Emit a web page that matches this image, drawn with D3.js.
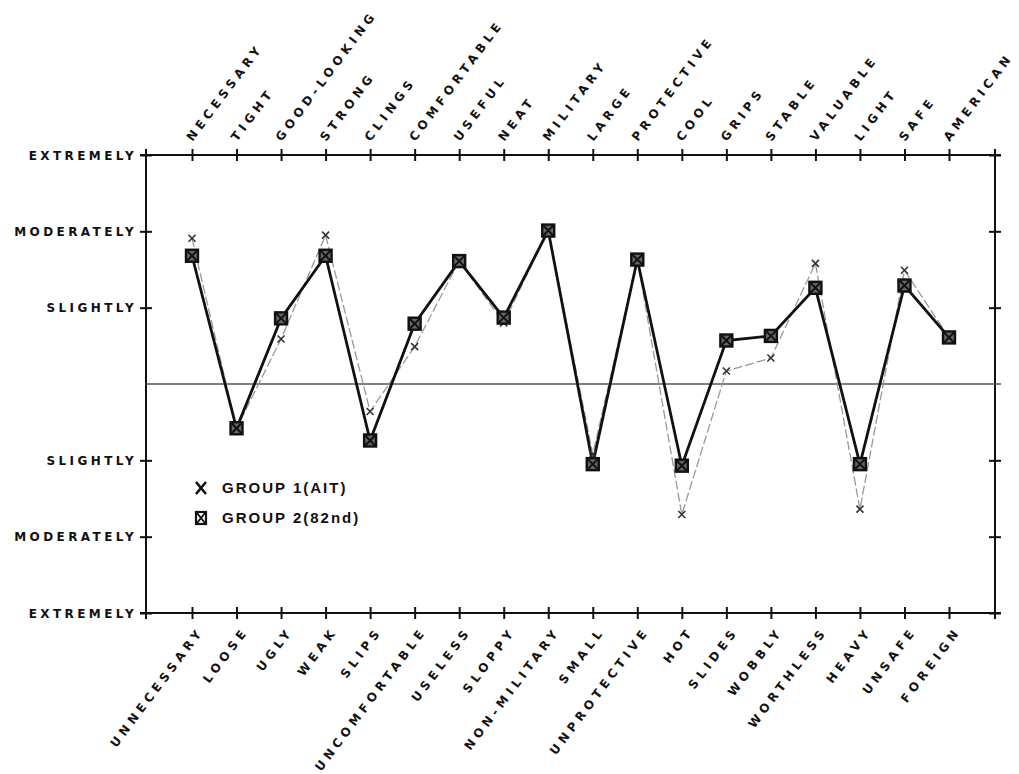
<!DOCTYPE html>
<html>
<head>
    <meta charset="UTF-8">
    <title>Semantic differential profile</title>
    <style>
        body { margin: 0; background: #fff; }
    </style>
</head>
<body>
    <div id="chart"></div>
    <script src="https://cdnjs.cloudflare.com/ajax/libs/d3/7.8.5/d3.min.js"></script>
    <script>

    // word pairs, top (positive) end and bottom (negative) end
    const topWords = ["NECESSARY", "TIGHT", "GOOD-LOOKING", "STRONG", "CLINGS", "COMFORTABLE",
        "USEFUL", "NEAT", "MILITARY", "LARGE", "PROTECTIVE", "COOL", "GRIPS", "STABLE",
        "VALUABLE", "LIGHT", "SAFE", "AMERICAN"];
    const bottomWords = ["UNNECESSARY", "LOOSE", "UGLY", "WEAK", "SLIPS", "UNCOMFORTABLE",
        "USELESS", "SLOPPY", "NON-MILITARY", "SMALL", "UNPROTECTIVE", "HOT", "SLIDES", "WOBBLY",
        "WORTHLESS", "HEAVY", "UNSAFE", "FOREIGN"];

    const scaleValues = [3, 2, 1, -1, -2, -3];
    const scaleLabels = ["EXTREMELY", "MODERATELY", "SLIGHTLY", "SLIGHTLY", "MODERATELY", "EXTREMELY"];

    // mean ratings (+3 extremely top word ... -3 extremely bottom word)
    const group1 = [1.91, -0.58, 0.59, 1.95, -0.36, 0.49, 1.61, 0.80, 2.01, -0.92,
        1.63, -1.71, 0.17, 0.34, 1.58, -1.64, 1.49, 0.61];
    const group2 = [1.68, -0.58, 0.86, 1.68, -0.74, 0.79, 1.61, 0.87, 2.01, -1.05,
        1.63, -1.07, 0.57, 0.63, 1.26, -1.05, 1.29, 0.61];

    const legendNames = ["GROUP 1(AIT)", "GROUP 2(82nd)"];

    const width = 1019, height = 774;
    const plotLeft = 146, plotRight = 995, plotTop = 155, plotBottom = 613;

    const svg = d3.select("#chart")
        .append("svg")
        .attr("width", width)
        .attr("height", height);

    const x = d3.scalePoint()
        .domain(d3.range(topWords.length))
        .range([192, 949]);

    const y = d3.scaleLinear()
        .domain([-3, 3])
        .range([plotBottom, plotTop]);

    const labelFont = "'DejaVu Sans', sans-serif";

    // frame
    svg.append("rect")
        .attr("x", plotLeft)
        .attr("y", plotTop)
        .attr("width", plotRight - plotLeft)
        .attr("height", plotBottom - plotTop)
        .style("fill", "none")
        .style("stroke", "#111")
        .style("stroke-width", 2);

    // neutral line
    svg.append("line")
        .attr("x1", plotLeft)
        .attr("x2", plotRight + 6)
        .attr("y1", y(0))
        .attr("y2", y(0))
        .style("stroke", "#555")
        .style("stroke-width", 1.6);

    // left axis with scale words
    const yAxis = svg.append("g")
        .attr("transform", `translate(${plotLeft},0)`)
        .call(d3.axisLeft(y).tickValues(scaleValues)
            .tickFormat((d, i) => scaleLabels[i]).tickSize(5));
    yAxis.select(".domain").remove();
    yAxis.selectAll(".tick line")
        .attr("x1", -6).attr("x2", 6)
        .style("stroke", "#111").style("stroke-width", 2);
    yAxis.selectAll(".tick text")
        .attr("x", -9)
        .attr("dy", "0.36em")
        .style("font-family", labelFont)
        .style("font-weight", "bold")
        .style("font-size", "12px")
        .style("letter-spacing", "3.4px")
        .style("fill", "#111");

    // right axis ticks only
    const yAxisR = svg.append("g")
        .attr("transform", `translate(${plotRight},0)`)
        .call(d3.axisRight(y).tickValues(scaleValues).tickFormat("").tickSize(5));
    yAxisR.select(".domain").remove();
    yAxisR.selectAll(".tick line")
        .attr("x1", -6).attr("x2", 6)
        .style("stroke", "#111").style("stroke-width", 2);

    // top axis with positive words
    const xTop = svg.append("g")
        .attr("transform", `translate(0,${plotTop})`)
        .call(d3.axisTop(x).tickFormat(i => topWords[i]).tickSize(5));
    xTop.select(".domain").remove();
    xTop.selectAll(".tick line")
        .attr("y1", -6).attr("y2", 6)
        .style("stroke", "#111").style("stroke-width", 2);
    xTop.selectAll(".tick text")
        .attr("x", 0).attr("y", 0).attr("dy", 0)
        .attr("transform", "translate(0,-13) rotate(-53)")
        .style("text-anchor", "start")
        .style("font-family", labelFont)
        .style("font-weight", "bold")
        .style("font-size", "12px")
        .style("letter-spacing", "4.4px")
        .style("fill", "#111");

    // bottom axis with negative words
    const xBottom = svg.append("g")
        .attr("transform", `translate(0,${plotBottom})`)
        .call(d3.axisBottom(x).tickFormat(i => bottomWords[i]).tickSize(5));
    xBottom.select(".domain").remove();
    xBottom.selectAll(".tick line")
        .attr("y1", -6).attr("y2", 6)
        .style("stroke", "#111").style("stroke-width", 2);
    xBottom.selectAll(".tick text")
        .attr("x", 0).attr("y", 0).attr("dy", 0)
        .attr("transform", "translate(12,18) rotate(-53)")
        .style("text-anchor", "end")
        .style("font-family", labelFont)
        .style("font-weight", "bold")
        .style("font-size", "12px")
        .style("letter-spacing", "4.4px")
        .style("fill", "#111");

    // corner crosses
    [[plotLeft, plotTop], [plotRight, plotTop], [plotLeft, plotBottom], [plotRight, plotBottom]].forEach(([cx, cy]) => {
        svg.append("line").attr("x1", cx - 6).attr("x2", cx + 6).attr("y1", cy).attr("y2", cy)
            .style("stroke", "#111").style("stroke-width", 2);
        svg.append("line").attr("x1", cx).attr("x2", cx).attr("y1", cy - 6).attr("y2", cy + 6)
            .style("stroke", "#111").style("stroke-width", 2);
    });

    const line = d3.line()
        .x((d, i) => x(i))
        .y(d => y(d));

    // group 1: thin grey line with x marks
    svg.append("path")
        .datum(group1)
        .attr("d", line)
        .style("fill", "none")
        .style("stroke", "#999")
        .style("stroke-width", 1.3)
        .style("stroke-dasharray", "9,3");

    // group 2: heavy black line
    svg.append("path")
        .datum(group2)
        .attr("d", line)
        .style("fill", "none")
        .style("stroke", "#111")
        .style("stroke-width", 2.8);

    const xMark = svg.append("g")
        .selectAll("g")
        .data(group1)
        .join("g")
        .attr("transform", (d, i) => `translate(${x(i)},${y(d)})`);
    xMark.append("path")
        .attr("d", "M-3.5,-3.5L3.5,3.5M3.5,-3.5L-3.5,3.5")
        .style("stroke", "#333")
        .style("stroke-width", 1.6);

    function squareMark(g) {
        g.append("rect")
            .attr("x", -6).attr("y", -6)
            .attr("width", 12).attr("height", 12)
            .style("fill", "#666")
            .style("stroke", "#111")
            .style("stroke-width", 2.4);
        g.append("path")
            .attr("d", "M-5,-5L5,5M5,-5L-5,5")
            .style("stroke", "#111")
            .style("stroke-width", 2);
    }

    svg.append("g")
        .selectAll("g")
        .data(group2)
        .join("g")
        .attr("transform", (d, i) => `translate(${x(i)},${y(d)})`)
        .each(function() { squareMark(d3.select(this)); });

    // legend
    const legend = svg.append("g").attr("transform", "translate(201,488)");
    legend.append("path")
        .attr("d", "M-5,-6L5,6M5,-6L-5,6")
        .style("stroke", "#111")
        .style("stroke-width", 2.6);
    const legSquare = legend.append("g").attr("transform", "translate(0,30)");
    legSquare.append("rect")
        .attr("x", -5).attr("y", -6)
        .attr("width", 10).attr("height", 12)
        .style("fill", "#fff")
        .style("stroke", "#111")
        .style("stroke-width", 2.2);
    legSquare.append("path")
        .attr("d", "M-4,-5L4,5M4,-5L-4,5")
        .style("stroke", "#111")
        .style("stroke-width", 2);

    legend.selectAll("text")
        .data(legendNames)
        .join("text")
        .attr("x", 21)
        .attr("y", (d, i) => i * 30)
        .attr("dy", "0.36em")
        .text(d => d)
        .style("font-family", "'Liberation Sans', Arial, sans-serif")
        .style("font-weight", "bold")
        .style("font-size", "15px")
        .style("letter-spacing", "2px")
        .style("fill", "#111");

    </script>
</body>
</html>
